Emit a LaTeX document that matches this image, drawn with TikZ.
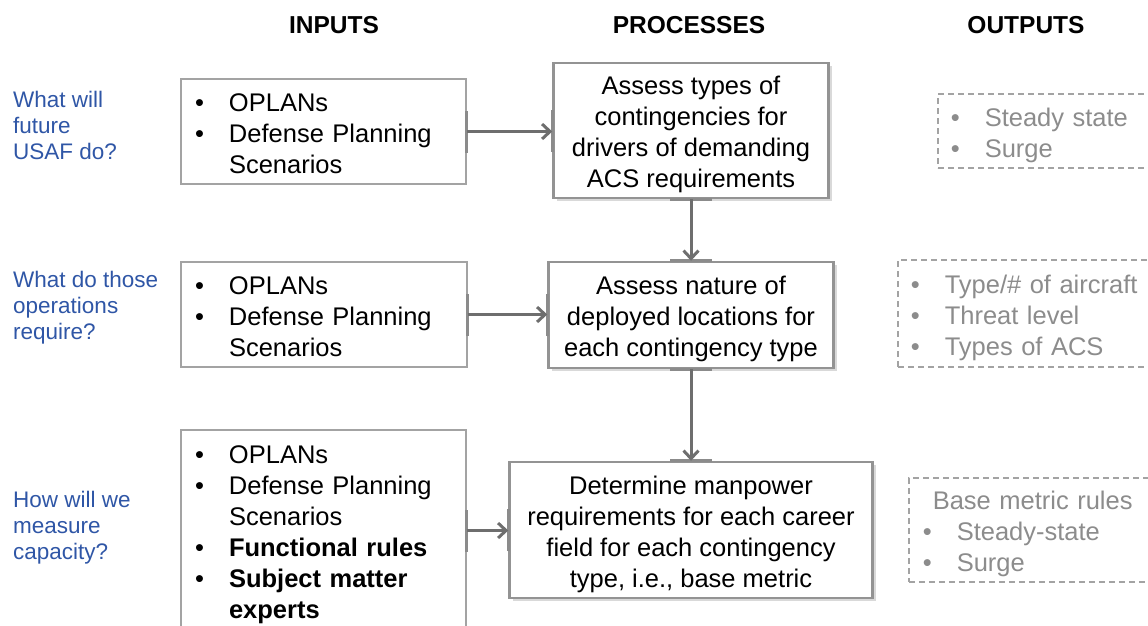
\documentclass[tikz,border=0pt]{standalone}
\usepackage{fontspec}
\setmainfont{Liberation Sans}
\usetikzlibrary{%
    arrows.meta,
    positioning,
    shadows
}
\definecolor{askblue}{HTML}{2F56A6}
\definecolor{flowgray}{HTML}{6E6E6E}
\definecolor{boxgray}{HTML}{A3A3A3}
\definecolor{outgray}{HTML}{8C8C8C}
\tikzset{headarrow/.style = {-{Straight Barb[length=8pt,width=15pt,line width=3pt]}}}
\tikzset{flow/.style = {draw=flowgray, line width=3pt, headarrow}}
\tikzset{joint/.style = {draw=flowgray!80, line width=3pt}}
\tikzset{bigtext/.style = {font=\fontsize{25.5}{31}\selectfont}}
\tikzset{header/.style = {bigtext, font=\fontsize{24.5}{30}\selectfont\bfseries}}
\tikzset{question/.style = {text=askblue, font=\fontsize{22.5}{26}\selectfont,
    align=left, anchor=west, inner sep=0pt}}
\tikzset{inbox/.style = {draw=boxgray, line width=1.3pt, fill=white, bigtext,
    inner xsep=14pt, inner ysep=0pt}}
\tikzset{procbox/.style = {draw=gray!85, line width=2.5pt, fill=white, bigtext,
    inner sep=0pt,
    drop shadow={opacity=0.3, shadow xshift=3pt, shadow yshift=-3pt}}}
\tikzset{outbox/.style = {draw=boxgray, line width=1.5pt, dash pattern=on 6pt off 4pt,
    text=outgray, bigtext, anchor=west, inner xsep=13pt, inner ysep=0pt,
    text width=230pt}}

% lists lowered a little so the lines sit as in the slide
\newcommand{\bulletlist}[1]{\raisebox{-4.5pt}[\height][\depth]{%
    \begin{tabular}{@{}p{34pt}@{}l@{}}#1\end{tabular}}}
\newcommand{\centerlist}[1]{\raisebox{-4.5pt}[\height][\depth]{%
    \begin{tabular}{@{}c@{}}#1\end{tabular}}}
\newcommand{\bu}{\textbullet}

\begin{document}
\begin{tikzpicture}[x=1pt, y=-1pt]
    \useasboundingbox (0,0) rectangle (1148,625);

    % column headers
    \node[header] (hin) at (334,25) {INPUTS};
    \node[header] (hproc) at (689,25) {PROCESSES};
    \node[header] (hout) at (1026,25) {OUTPUTS};

    % questions
    \node[question] (q1) at (13,125) {What will\\future\\USAF do?};
    \node[question] (q2) at (13,308) {What do those\\operations\\require?};
    \node[question] (q3) at (13,528) {How will we\\measure\\capacity?};

    % inputs
    \node[inbox, text width=257pt, minimum height=105pt] (in1) at (323.5,131.5)
        {\bulletlist{\bu & OPLANs\\ \bu & Defense Planning\\ & Scenarios}};
    \node[inbox, text width=258pt, minimum height=105pt] (in2) at (324,314.5)
        {\bulletlist{\bu & OPLANs\\ \bu & Defense Planning\\ & Scenarios}};
    \node[inbox, text width=257pt, minimum height=201pt] (in3) at (323.5,530.5)
        {\bulletlist{\bu & OPLANs\\ \bu & Defense Planning\\ & Scenarios\\
            \bu & \textbf{Functional rules}\\ \bu & \textbf{Subject matter}\\
            & \textbf{experts}}};

    % processes
    \node[procbox, minimum width=275pt, minimum height=135pt] (p1) at (691,130.5)
        {\centerlist{Assess types of\\contingencies for\\drivers of demanding\\ACS requirements}};
    \node[procbox, minimum width=285pt, minimum height=106pt] (p2) at (691,315)
        {\centerlist{Assess nature of\\deployed locations for\\each contingency type}};
    \node[procbox, minimum width=363pt, minimum height=136pt] (p3) at (691,530)
        {\centerlist{Determine manpower\\requirements for each career\\field for each contingency\\type, i.e., base metric}};

    % outputs
    \node[outbox, minimum height=74pt] (o1) at (937,131)
        {\bulletlist{\bu & Steady state\\ \bu & Surge}};
    \node[outbox, minimum height=107pt] (o2) at (897,313.5)
        {\bulletlist{\bu & Type/\# of aircraft\\ \bu & Threat level\\ \bu & Types of ACS}};
    \node[outbox, minimum height=104pt, inner xsep=14pt] (o3) at (908,530)
        {\bulletlist{\multicolumn{2}{@{\hspace*{10pt}}l@{}}{Base metric rules}\\
            \bu & Steady-state\\ \bu & Surge}};

    % connection marks
    \foreach \Mark in {in1.east, in2.east, in3.east, p1.west, p2.west, p3.west}
        \draw[joint] ([yshift=-21pt]\Mark) -- ([yshift=21pt]\Mark);
    \foreach \Mark in {p1.south, p2.north, p2.south, p3.north}
        \draw[joint] ([xshift=-21pt]\Mark) -- ([xshift=21pt]\Mark);

    % arrows
    \foreach \Source/\Target in {in1/p1, in2/p2, in3/p3}
        \draw[flow] (\Source.east) -- (\Source.east -| \Target.west);
    \foreach \Source/\Target in {p1/p2, p2/p3}
        \draw[flow] (\Source.south) -- (\Target.north);
\end{tikzpicture}
\end{document}
